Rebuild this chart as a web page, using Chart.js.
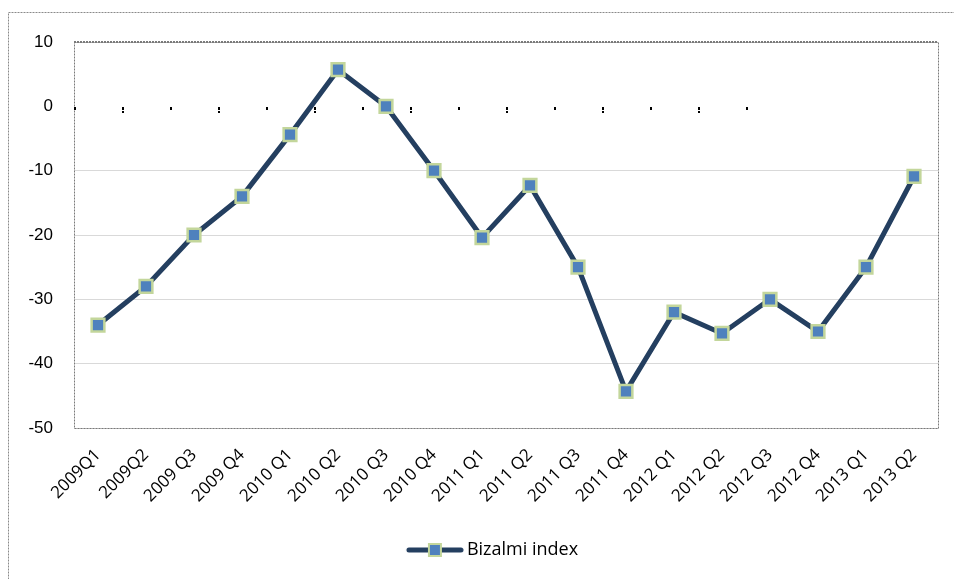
<!DOCTYPE html>
<html>
<head>
<meta charset="utf-8">
<script src="https://cdn.jsdelivr.net/npm/chart.js@4/dist/chart.umd.min.js"></script>
<style>
  html, body { margin: 0; padding: 0; background: #fff; }
  #wrap { width: 954px; height: 579px; position: relative; }
</style>
</head>
<body>
<div id="wrap"><canvas id="chart"></canvas></div>
<script>
// Dados do gráfico
const quarters = ['2009Q1', '2009Q2', '2009 Q3', '2009 Q4', '2010 Q1', '2010 Q2', '2010 Q3', '2010 Q4',
  '2011 Q1', '2011 Q2', '2011 Q3', '2011 Q4', '2012 Q1', '2012 Q2', '2012 Q3', '2012 Q4', '2013 Q1', '2013 Q2'];
const bizalmiIndex = [-34, -28, -20, -14, -4.4, 5.7, 0, -10, -20.4, -12.3, -25, -44.3, -32, -35.3, -30, -35, -25, -10.9];
const yTicks = [10, 0, -10, -20, -30, -40, -50];

const lineColor = '#243f60';
const markerFill = '#4f81bd';
const markerEdge = '#c3d69b';

// Símbolo da legenda: linha com marcador quadrado (alinhado à direita da imagem)
function legendSymbol() {
  const c = document.createElement('canvas');
  c.width = 110; c.height = 16;
  const g = c.getContext('2d');
  const x0 = 110 - 58;
  g.strokeStyle = lineColor;
  g.lineWidth = 5;
  g.lineCap = 'round';
  g.beginPath(); g.moveTo(x0 + 3, 8); g.lineTo(x0 + 55, 8); g.stroke();
  g.fillStyle = markerFill;
  g.fillRect(x0 + 23, 2, 12, 12);
  g.strokeStyle = markerEdge;
  g.lineWidth = 2;
  g.strokeRect(x0 + 23, 2, 12, 12);
  return c;
}

// Bordas tracejadas e marcas pontilhadas na linha do zero
const framePlugin = {
  id: 'frame',
  beforeDraw(chart) {
    const ctx = chart.ctx;
    ctx.save();
    ctx.strokeStyle = '#8a8a8a';
    ctx.lineWidth = 1;
    ctx.setLineDash([2, 1]);
    ctx.strokeRect(8.5, 12.5, 960, 600);
    ctx.restore();
  },
  beforeDatasetsDraw(chart) {
    const { ctx, chartArea: a, scales } = chart;
    ctx.save();
    ctx.strokeStyle = '#7a7a7a';
    ctx.setLineDash([2, 1]);
    ctx.lineWidth = 1;
    ctx.strokeRect(a.left + 0.5, a.top + 0.5, a.width, a.height);
    ctx.lineWidth = 2;
    ctx.beginPath(); ctx.moveTo(a.left, a.top); ctx.lineTo(a.right, a.top); ctx.stroke();
    // pontinhos na linha do zero
    const x = scales.x, y = scales.y;
    const step = x.getPixelForValue(1) - x.getPixelForValue(0);
    const y0 = Math.round(y.getPixelForValue(0));
    ctx.setLineDash([]);
    ctx.fillStyle = '#000';
    for (let k = 0; k < 15; k++) {
      const px = Math.round(x.getPixelForValue(k) - step / 2);
      ctx.fillRect(px, y0 + 1, 2, 3);
      if (k % 2 === 1) ctx.fillRect(px, y0 + 5, 2, 2);
    }
    ctx.restore();
  }
};

new Chart(document.getElementById('chart'), {
  type: 'line',
  data: {
    labels: quarters,
    datasets: [{
      label: 'Bizalmi index',
      data: bizalmiIndex,
      borderColor: lineColor,
      borderWidth: 5,
      tension: 0,
      pointStyle: 'rect',
      pointRadius: 9,
      pointHoverRadius: 9,
      pointBackgroundColor: markerFill,
      pointBorderColor: markerEdge,
      pointBorderWidth: 2.5
    }]
  },
  options: {
    responsive: true,
    maintainAspectRatio: false,
    animation: false,
    layout: { padding: { top: 42, right: 16, left: 0, bottom: 10 } },
    scales: {
      x: {
        offset: true,
        grid: { display: false, drawTicks: false },
        border: { display: false },
        ticks: {
          minRotation: 45,
          maxRotation: 45,
          autoSkip: false,
          padding: 17,
          color: '#000',
          font: { family: 'Open Sans', size: 17 }
        },
        afterFit(scale) { scale.height = 103; }
      },
      y: {
        min: -50,
        max: 10,
        afterBuildTicks(scale) { scale.ticks = yTicks.map(v => ({ value: v })); },
        grid: {
          drawTicks: false,
          color: ctx => (ctx.tick && ctx.tick.value === 0) ? 'rgba(0,0,0,0)' : '#d9d9d9',
          lineWidth: 1
        },
        border: { display: false },
        ticks: {
          padding: 21,
          color: '#000',
          font: { family: 'Liberation Sans', size: 17 }
        },
        afterFit(scale) { scale.width = 74; }
      }
    },
    plugins: {
      legend: {
        position: 'bottom',
        labels: {
          usePointStyle: true,
          pointStyleWidth: 98,
          padding: 10,
          color: '#000',
          font: { family: 'Open Sans', size: 18 },
          generateLabels(chart) {
            return [{
              text: chart.data.datasets[0].label,
              pointStyle: legendSymbol(),
              fillStyle: markerFill,
              strokeStyle: lineColor,
              lineWidth: 0,
              datasetIndex: 0,
              hidden: false
            }];
          }
        }
      },
      tooltip: { enabled: false }
    }
  },
  plugins: [framePlugin]
});
</script>
</body>
</html>
